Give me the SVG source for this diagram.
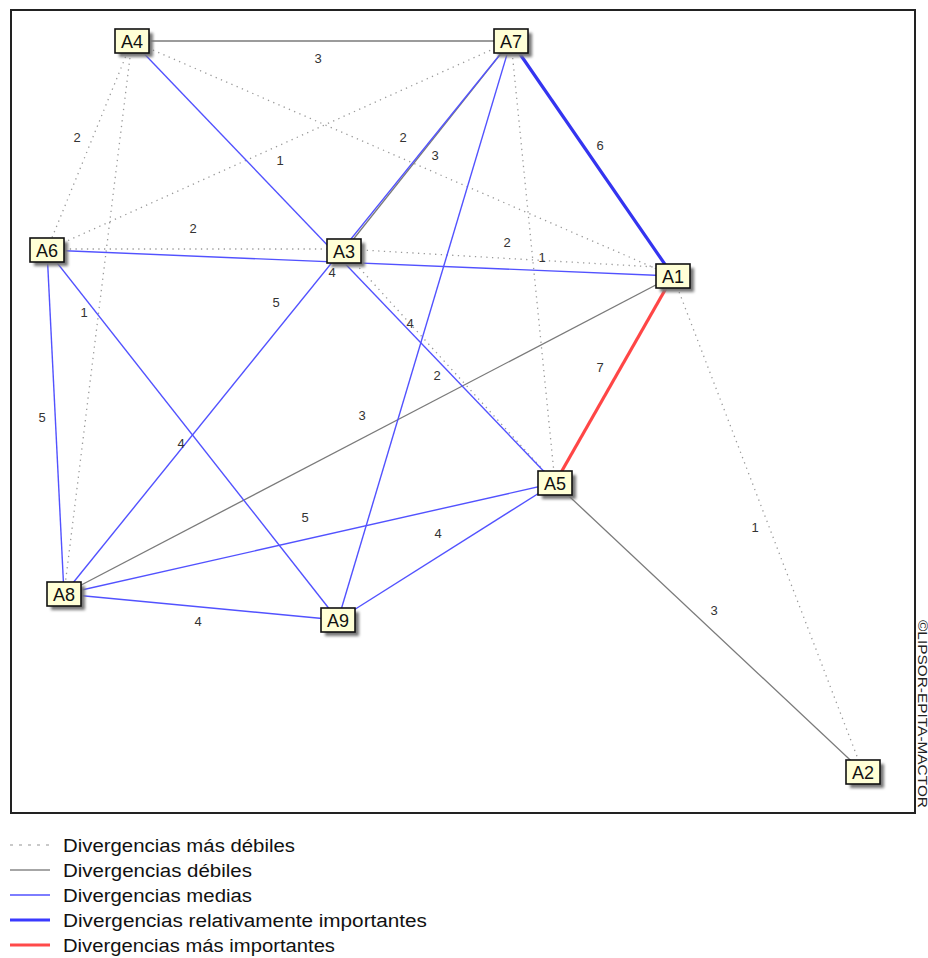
<svg xmlns="http://www.w3.org/2000/svg" width="928" height="958" viewBox="0 0 928 958">
<style>
text{font-family:"Liberation Sans",Arial,sans-serif}
.dot{stroke:#9a9a9a;stroke-width:1.3;stroke-dasharray:1.3 4.4;fill:none}
.weak{stroke:#7a7a7a;stroke-width:1.3;fill:none}
.med{stroke:#5252ff;stroke-width:1.4;fill:none}
.imp{stroke:#3434f0;stroke-width:3.2;fill:none}
.top{stroke:#ff4646;stroke-width:3.2;fill:none}
.lbl{font-size:13px;fill:#333;text-anchor:middle}
.box{fill:#ffffd6;stroke:#111;stroke-width:1.6}
.shd{fill:#777;filter:url(#blur)}
.nt{font-size:18px;fill:#111;text-anchor:middle}
.leg{font-size:18px;fill:#111}
</style>
<defs>
<filter id="blur" x="-30%" y="-30%" width="160%" height="160%"><feGaussianBlur stdDeviation="1.4"/></filter>
</defs>
<rect x="0" y="0" width="928" height="958" fill="#fff"/>
<rect x="11" y="10" width="904" height="803" fill="none" stroke="#222" stroke-width="2"/>
<g id="connectors">
<line class="dot" x1="132" y1="41" x2="47" y2="250"/>
<line class="dot" x1="132" y1="41" x2="64" y2="594"/>
<line class="dot" x1="132" y1="41" x2="673" y2="276"/>
<line class="dot" x1="511" y1="41" x2="47" y2="250"/>
<line class="dot" x1="47" y1="249" x2="344" y2="249"/>
<line class="dot" x1="344" y1="249" x2="673" y2="268"/>
<line class="dot" x1="511" y1="41" x2="555" y2="483"/>
<line class="dot" x1="344" y1="251" x2="555" y2="483"/>
<line class="dot" x1="673" y1="276" x2="863" y2="772"/>
<line class="weak" x1="132" y1="41" x2="511" y2="41"/>
<line class="weak" x1="511" y1="41" x2="344" y2="251"/>
<line class="weak" x1="64" y1="594" x2="673" y2="276"/>
<line class="weak" x1="555" y1="483" x2="863" y2="772"/>
<line class="med" x1="132" y1="41" x2="555" y2="483"/>
<line class="med" x1="511" y1="41" x2="64" y2="594"/>
<line class="med" x1="511" y1="41" x2="338" y2="620"/>
<line class="med" x1="47" y1="250" x2="673" y2="276"/>
<line class="med" x1="47" y1="250" x2="64" y2="594"/>
<line class="med" x1="47" y1="250" x2="338" y2="620"/>
<line class="med" x1="64" y1="594" x2="555" y2="483"/>
<line class="med" x1="64" y1="594" x2="338" y2="620"/>
<line class="med" x1="338" y1="620" x2="555" y2="483"/>
<line class="imp" x1="511" y1="41" x2="673" y2="276"/>
<line class="top" x1="673" y1="276" x2="555" y2="483"/>
</g>
<g id="edge-labels">
<text class="lbl" x="318" y="63">3</text>
<text class="lbl" x="77" y="142">2</text>
<text class="lbl" x="280" y="165">1</text>
<text class="lbl" x="403" y="142">2</text>
<text class="lbl" x="435" y="160">3</text>
<text class="lbl" x="600" y="150">6</text>
<text class="lbl" x="193" y="233">2</text>
<text class="lbl" x="507" y="247">2</text>
<text class="lbl" x="542" y="262">1</text>
<text class="lbl" x="332" y="277">4</text>
<text class="lbl" x="276" y="307">5</text>
<text class="lbl" x="84" y="317">1</text>
<text class="lbl" x="410" y="328">4</text>
<text class="lbl" x="600" y="372">7</text>
<text class="lbl" x="437" y="380">2</text>
<text class="lbl" x="362" y="420">3</text>
<text class="lbl" x="42" y="422">5</text>
<text class="lbl" x="181" y="448">4</text>
<text class="lbl" x="305" y="522">5</text>
<text class="lbl" x="755" y="532">1</text>
<text class="lbl" x="438" y="538">4</text>
<text class="lbl" x="714" y="615">3</text>
<text class="lbl" x="198" y="626">4</text>
</g>
<g id="A4"><rect class="shd" x="119" y="33" width="34" height="24"/><rect class="box" x="115" y="29" width="34" height="24"/><text class="nt" x="132" y="48">A4</text></g>
<g id="A7"><rect class="shd" x="498" y="33" width="34" height="24"/><rect class="box" x="494" y="29" width="34" height="24"/><text class="nt" x="511" y="48">A7</text></g>
<g id="A6"><rect class="shd" x="34" y="242" width="34" height="24"/><rect class="box" x="30" y="238" width="34" height="24"/><text class="nt" x="47" y="257">A6</text></g>
<g id="A3"><rect class="shd" x="331" y="243" width="34" height="24"/><rect class="box" x="327" y="239" width="34" height="24"/><text class="nt" x="344" y="258">A3</text></g>
<g id="A1"><rect class="shd" x="660" y="268" width="34" height="24"/><rect class="box" x="656" y="264" width="34" height="24"/><text class="nt" x="673" y="283">A1</text></g>
<g id="A5"><rect class="shd" x="542" y="475" width="34" height="24"/><rect class="box" x="538" y="471" width="34" height="24"/><text class="nt" x="555" y="490">A5</text></g>
<g id="A8"><rect class="shd" x="51" y="586" width="34" height="24"/><rect class="box" x="47" y="582" width="34" height="24"/><text class="nt" x="64" y="601">A8</text></g>
<g id="A9"><rect class="shd" x="325" y="612" width="34" height="24"/><rect class="box" x="321" y="608" width="34" height="24"/><text class="nt" x="338" y="627">A9</text></g>
<g id="A2"><rect class="shd" x="850" y="764" width="34" height="24"/><rect class="box" x="846" y="760" width="34" height="24"/><text class="nt" x="863" y="779">A2</text></g>
<text transform="translate(917.5,620) rotate(90)" font-size="12" fill="#222" textLength="188" lengthAdjust="spacingAndGlyphs">©LIPSOR-EPITA-MACTOR</text>
<g id="legend">
<line x1="10" y1="845" x2="50" y2="845" stroke="#b8b8b8" stroke-width="1.3" stroke-dasharray="3 6"/>
<line x1="10" y1="870" x2="50" y2="870" stroke="#888" stroke-width="1.5"/>
<line x1="10" y1="895" x2="50" y2="895" stroke="#5252ff" stroke-width="1.5"/>
<line x1="10" y1="920" x2="50" y2="920" stroke="#3a3aff" stroke-width="3"/>
<line x1="10" y1="945" x2="50" y2="945" stroke="#ff4a4a" stroke-width="3"/>
<text class="leg" x="63" y="852" textLength="232" lengthAdjust="spacingAndGlyphs">Divergencias más débiles</text>
<text class="leg" x="63" y="877" textLength="189" lengthAdjust="spacingAndGlyphs">Divergencias débiles</text>
<text class="leg" x="63" y="902" textLength="189" lengthAdjust="spacingAndGlyphs">Divergencias medias</text>
<text class="leg" x="63" y="927" textLength="364" lengthAdjust="spacingAndGlyphs">Divergencias  relativamente importantes</text>
<text class="leg" x="63" y="952" textLength="272" lengthAdjust="spacingAndGlyphs">Divergencias más importantes</text>
</g>
</svg>
